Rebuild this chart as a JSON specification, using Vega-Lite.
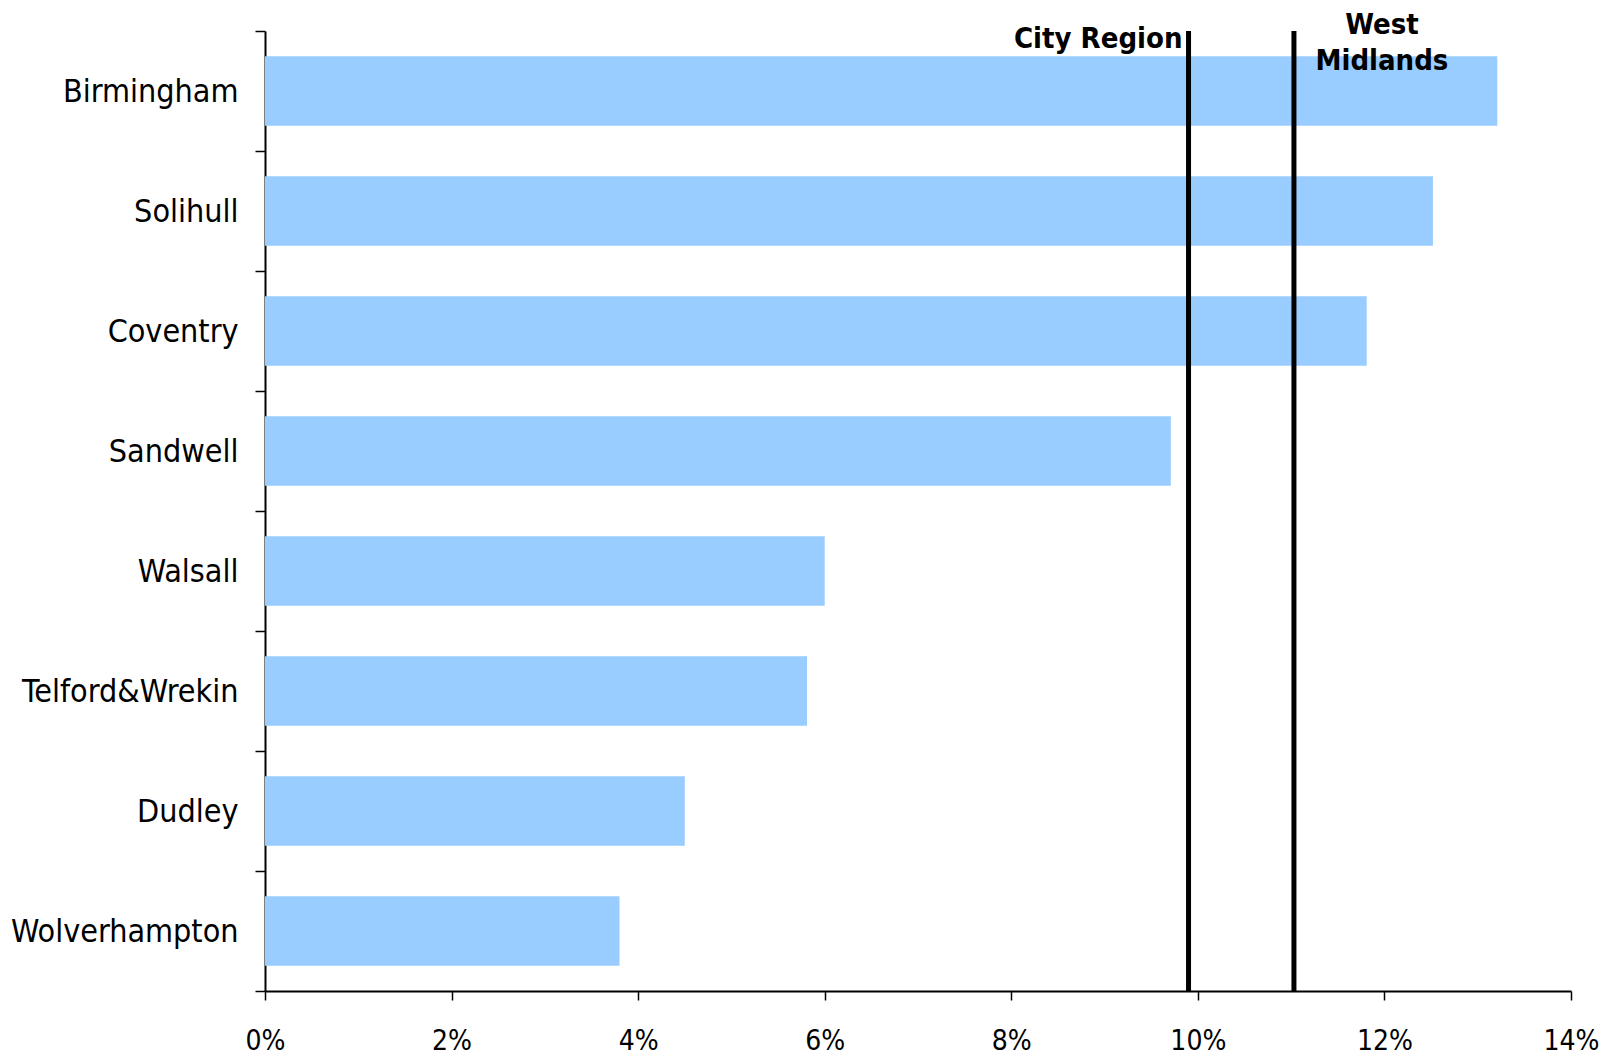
{
  "$schema": "https://vega.github.io/schema/vega-lite/v6.json",
  "width": 1306,
  "height": 960,
  "autosize": {"type": "none"},
  "padding": {"left": 265, "top": 31, "right": 33, "bottom": 68},
  "background": "white",
  "config": {"view": {"stroke": null}},
  "datasets": {
    "areas": [
      {"area": "Birmingham", "pct": 0.1321},
      {"area": "Solihull", "pct": 0.1252},
      {"area": "Coventry", "pct": 0.1181},
      {"area": "Sandwell", "pct": 0.0971},
      {"area": "Walsall", "pct": 0.0600},
      {"area": "Telford&Wrekin", "pct": 0.0581},
      {"area": "Dudley", "pct": 0.0450},
      {"area": "Wolverhampton", "pct": 0.0380}
    ],
    "refs": [
      {"label": "City Region", "pct": 0.0990, "area": "Birmingham"},
      {"label": "West\nMidlands", "pct": 0.1103, "area": "Birmingham"}
    ]
  },
  "layer": [
    {
      "data": {"name": "areas"},
      "mark": {"type": "bar", "color": "#99CCFF", "height": {"band": 0.58}},
      "encoding": {
        "y": {
          "field": "area",
          "type": "nominal",
          "scale": {
            "domain": ["Birmingham", "Solihull", "Coventry", "Sandwell", "Walsall", "Telford&Wrekin", "Dudley", "Wolverhampton"],
            "paddingInner": 0,
            "paddingOuter": 0
          },
          "axis": {
            "title": null,
            "domainColor": "black",
            "domainWidth": 2,
            "tickColor": "black",
            "tickWidth": 1.5,
            "tickSize": 10,
            "tickBand": "extent",
            "labelFont": "DejaVu Sans Condensed",
            "labelFontSize": 32,
            "labelColor": "black",
            "labelPadding": 17,
            "labelLimit": 0
          }
        },
        "x": {
          "field": "pct",
          "type": "quantitative",
          "scale": {"domain": [0, 0.14], "nice": false},
          "axis": {
            "title": null,
            "values": [0, 0.02, 0.04, 0.06, 0.08, 0.1, 0.12, 0.14],
            "format": ".0%",
            "grid": false,
            "domainColor": "black",
            "domainWidth": 2,
            "tickColor": "black",
            "tickWidth": 1.5,
            "tickSize": 9,
            "labelFont": "DejaVu Sans Condensed",
            "labelFontSize": 28,
            "labelColor": "black",
            "labelPadding": 27,
            "labelFlush": false
          }
        }
      }
    },
    {
      "data": {"name": "refs"},
      "mark": {"type": "rule", "strokeWidth": 5, "color": "black"},
      "encoding": {
        "x": {"field": "pct", "type": "quantitative"}
      }
    },
    {
      "data": {"name": "refs"},
      "transform": [{"filter": "datum.label == 'City Region'"}],
      "mark": {"type": "text", "align": "right", "baseline": "alphabetic", "dx": -6, "dy": -43, "font": "DejaVu Sans Condensed", "fontWeight": "bold", "fontSize": 29, "color": "black"},
      "encoding": {
        "x": {"field": "pct", "type": "quantitative"},
        "y": {"field": "area", "type": "nominal"},
        "text": {"field": "label"}
      }
    },
    {
      "data": {"name": "refs"},
      "transform": [{"filter": "datum.label != 'City Region'"}],
      "mark": {"type": "text", "align": "center", "baseline": "alphabetic", "lineBreak": "\n", "lineHeight": 36, "dx": 88, "dy": -57, "font": "DejaVu Sans Condensed", "fontWeight": "bold", "fontSize": 29, "color": "black"},
      "encoding": {
        "x": {"field": "pct", "type": "quantitative"},
        "y": {"field": "area", "type": "nominal"},
        "text": {"field": "label"}
      }
    }
  ]
}
